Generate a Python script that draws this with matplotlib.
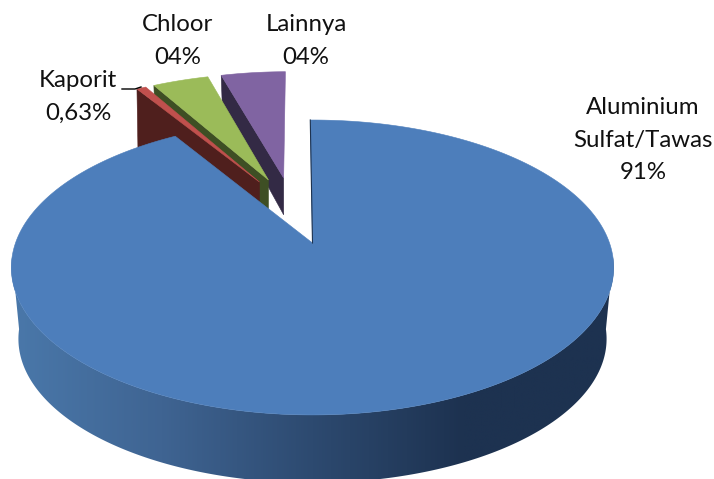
import numpy as np
import matplotlib
matplotlib.use("Agg")
import matplotlib.pyplot as plt
from matplotlib.colors import LinearSegmentedColormap
from matplotlib.patches import Polygon

# slices, clockwise from 12 o'clock
names = ["Aluminium\nSulfat/Tawas", "Kaporit", "Chloor", "Lainnya"]
shares = [91.3, 0.63, 3.75, 4.32]
share_labels = ["91%", "0,63%", "04%", "04%"]

top_colors = ["#4d7ebb", "#c0504d", "#9bbb59", "#8064a2"]
side_colors = ["#1e3350", "#4f1f1d", "#3e4f24", "#332a45"]

# explosion of each slice on the pie plane, and extruded depth in pixels
explode_u = [0.0, -0.192, -0.16, -0.105]
explode_v = [0.0, 0.457, 0.474, 0.49]
slice_depth = [43, 90, 43, 43]

label_x = [643, 78, 178, 306]
label_y = [140, 97, 41, 41]

# perspective set-up, pixels
X0, Y0 = 312.5, 243
RX, RY, PERSP = 297, 143.4, 0.166
RX_BOTTOM, RY_BOTTOM, Y0_BOTTOM = 290, 140, 315
START_ANGLE = np.radians(-0.5)

side_cmap = LinearSegmentedColormap.from_list(
    "side", ["#4a78aa", "#3f6492", "#2d4a70", "#1d3250", "#1d3250"]
)


def project(u, v):
    w = 1 + PERSP * v
    return X0 + RX * u / w, Y0 - RY * v / w


def project_bottom(u, v):
    w = 1 + PERSP * v
    return X0 + RX_BOTTOM * u / w, Y0_BOTTOM - RY_BOTTOM * v / w


def slice_angles():
    edges = START_ANGLE + np.cumsum([0] + shares) / sum(shares) * 2 * np.pi
    return edges[:-1], edges[1:]


def draw_exploded_slice(ax, i, start, end):
    # radial face on the left of the slice, then the top
    du, dv = explode_u[i], explode_v[i]
    theta = np.linspace(start, end, 30)
    xs, ys = project(du + np.sin(theta), dv + np.cos(theta))
    apex_x, apex_y = project(du, dv)
    cx, cy = xs[0], ys[0]
    w_apex = 1 + PERSP * dv
    w_corner = 1 + PERSP * (dv + np.cos(start))
    d_apex = slice_depth[i] / w_apex ** 2
    d_corner = slice_depth[i] / w_corner ** 2
    face = [(cx, cy), (apex_x, apex_y), (apex_x, apex_y + d_apex), (cx + 1, cy + d_corner)]
    ax.add_patch(Polygon(face, closed=True, fc=side_colors[i], ec=side_colors[i], lw=0.4))
    top = [(apex_x, apex_y)] + list(zip(xs, ys))
    ax.add_patch(Polygon(top, closed=True, fc=top_colors[i], ec=top_colors[i], lw=0.4))


def draw_main_slice(ax, start, end):
    # front wall: horizontal gradient clipped to the wall outline
    theta = np.linspace(np.pi / 2 + 0.1, 3 * np.pi / 2 - 0.1, 300)
    xt, yt = project(np.sin(theta), np.cos(theta))
    xb, yb = project_bottom(np.sin(theta), np.cos(theta))
    outline = list(zip(xt, yt)) + list(zip(xb[::-1], yb[::-1]))
    wall = Polygon(outline, closed=True, fc="none", ec="none")
    ax.add_patch(wall)
    gradient = np.linspace(0, 1, 512).reshape(1, -1)
    im = ax.imshow(gradient, cmap=side_cmap, extent=[xt.min(), xt.max(), 479, 240], aspect="auto", zorder=1)
    im.set_clip_path(wall)

    theta = np.linspace(start, end, 400)
    xs, ys = project(np.sin(theta), np.cos(theta))
    apex_x, apex_y = project(0, 0)
    top = [(apex_x, apex_y)] + list(zip(xs, ys))
    ax.add_patch(Polygon(top, closed=True, fc=top_colors[0], ec=top_colors[0], lw=0.4, zorder=2))
    ax.plot([xs[0], apex_x], [ys[0], apex_y], color=side_colors[0], lw=0.8, zorder=2)


def main():
    plt.rcParams["font.family"] = ["Lato", "DejaVu Sans"]
    fig = plt.figure(figsize=(7.14, 4.79), dpi=100)
    ax = fig.add_axes([0, 0, 1, 1])

    starts, ends = slice_angles()
    for i in [3, 2, 1]:
        draw_exploded_slice(ax, i, starts[i], ends[i])
    draw_main_slice(ax, starts[0], ends[0])

    ax.set_xlim(0, 714)
    ax.set_ylim(479, 0)
    ax.axis("off")

    # leader line for the small slice
    ax.plot([122, 135, 141], [89, 89, 87], color="black", lw=1.0)

    for name, lab, x, y in zip(names, share_labels, label_x, label_y):
        ax.text(x, y, name + "\n" + lab, ha="center", va="center", fontsize=17.3, linespacing=1.65, color="#111111")

    fig.savefig("out.png", dpi=100)
    plt.close()


if __name__ == "__main__":
    main()
